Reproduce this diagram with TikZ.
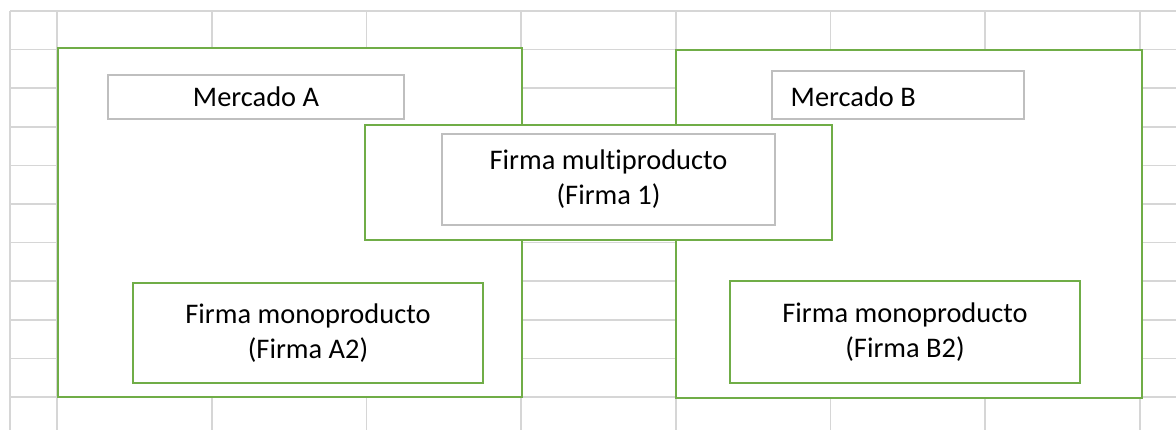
\documentclass[tikz,border=0pt]{standalone}
\usepackage{fontspec}
\setmainfont[Ligatures=NoCommon]{Carlito}
\usepackage{tikz}

\definecolor{gridgray}{HTML}{D6D6D6}
\definecolor{boxgreen}{HTML}{70AD47}
\definecolor{boxgray}{HTML}{BFBFBF}

\begin{document}
\begin{tikzpicture}[
  x=0.75pt, y=-0.75pt,
  gridline/.style={draw=gridgray,line width=1.3pt},
  gbox/.style={draw=boxgreen,line width=1.5pt,fill=white,rectangle,inner sep=0pt,align=center},
  lbox/.style={draw=boxgray,line width=1.5pt,fill=white,rectangle,inner sep=0pt,align=center},
  every node/.style={font=\fontsize{21.3}{26.3}\selectfont}
]
  \useasboundingbox (0,0) rectangle (1176,430);

  % sheet grid
  \foreach \gx in {10,57,211.7,366.4,521.1,675.8,830.5,985.2,1139.9}
    \draw[gridline] (\gx,11) -- (\gx,430);
  \foreach \gy in {11,49.6,88.2,126.8,165.4,204,242.6,281.2,319.8,358.4,397}
    \draw[gridline] (10,\gy) -- (1176,\gy);

  % markets
  \node[gbox,minimum width=348pt,minimum height=261.75pt] (mktA) at (290,222.5) {};
  \node[gbox,minimum width=349.5pt,minimum height=261pt] (mktB) at (909,224) {};

  % market labels
  \node[lbox,minimum width=222pt,minimum height=33pt] (lblA) at (256,97) {Mercado A};
  \node[lbox,minimum width=189pt,minimum height=36pt] (lblB) at (898,95) {};
  \node[anchor=west,inner sep=0pt] (txtB) at ([xshift=14.6pt,yshift=-1.5pt]lblB.west) {Mercado B};

  % single-product firms
  \node[gbox,minimum width=262.5pt,minimum height=75pt] (firmA2) at (308,333) {Firma monoproducto\\(Firma A2)};
  \node[gbox,minimum width=262.5pt,minimum height=76.5pt] (firmB2) at (905,332) {Firma monoproducto\\(Firma B2)};

  % multiproduct firm
  \node[gbox,minimum width=350.25pt,minimum height=86.25pt] (multi) at (598.5,182.5) {};
  \node[lbox,minimum width=249.75pt,minimum height=68.25pt] (firm1) at (608.5,179.5) {Firma multiproducto\\(Firma 1)};

\end{tikzpicture}
\end{document}
